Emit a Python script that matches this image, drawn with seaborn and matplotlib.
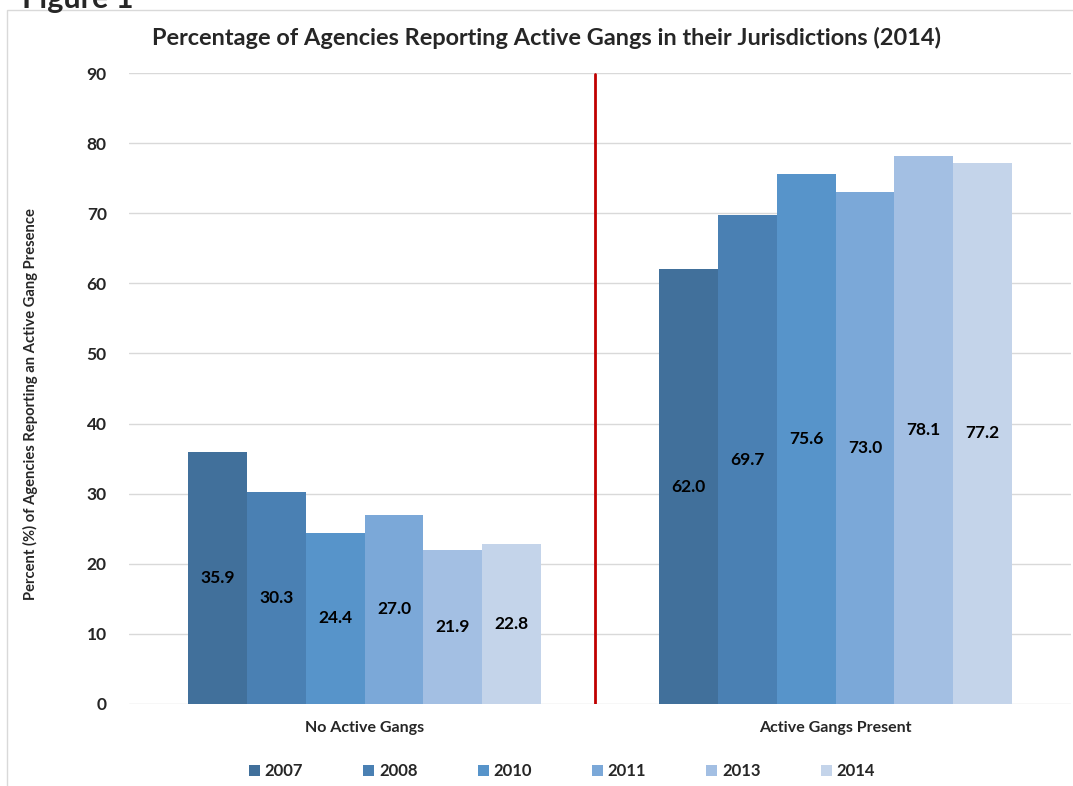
import matplotlib
matplotlib.use("Agg")
import matplotlib.pyplot as plt
import seaborn as sns
import pandas as pd
from matplotlib.patches import Rectangle

categories = ["No Active Gangs", "Active Gangs Present"]
years = ["2007", "2008", "2010", "2011", "2013", "2014"]
no_active = [35.9, 30.3, 24.4, 27.0, 21.9, 22.8]
active_present = [62.0, 69.7, 75.6, 73.0, 78.1, 77.2]
colors = ["#41709B", "#4A80B3", "#5794CA", "#7BA8D8", "#A3BFE3", "#C4D4EA"]
yticks = [0, 10, 20, 30, 40, 50, 60, 70, 80, 90]
divider_x = 0.49

rows = []
for y, a, b in zip(years, no_active, active_present):
    rows.append({"cat": categories[0], "year": y, "val": a})
    rows.append({"cat": categories[1], "year": y, "val": b})
df = pd.DataFrame(rows)

sns.set_theme(style="white")
plt.rcParams["font.family"] = ["Lato", "DejaVu Sans"]
plt.rcParams["font.weight"] = "bold"

fig = plt.figure(figsize=(10.73, 7.86), dpi=100)
ax = fig.add_axes([129 / 1073, 1 - 704 / 786, 942 / 1073, 631 / 786])

sns.barplot(data=df, x="cat", y="val", hue="year", order=categories, hue_order=years,
            palette=colors, width=0.75, gap=0, ax=ax, saturation=1, errorbar=None,
            edgecolor="none", linewidth=0, legend=True)

for cont in ax.containers:
    ax.bar_label(cont, fmt="%.1f", label_type="center", fontsize=12.5, fontweight="bold",
                 color="black")

ax.set_xlim(-0.5, 1.5)
ax.set_ylim(0, 90)
ax.set_yticks(yticks)
ax.set_yticklabels([str(t) for t in yticks], fontsize=12.5, fontweight="bold")
ax.tick_params(axis="x", labelsize=11.5, pad=12, length=0)
ax.tick_params(axis="y", pad=16, length=0)
for lab in ax.get_xticklabels():
    lab.set_fontweight("bold")
ax.set_xlabel("")
ax.set_ylabel("Percent (%) of Agencies Reporting an Active Gang Presence", fontsize=10.6,
              fontweight="bold")
ax.yaxis.set_label_coords(-0.105, 0.475)
ax.yaxis.label.set_verticalalignment("center")
ax.yaxis.grid(True, color="#D9D9D9", lw=1)
ax.set_axisbelow(True)
for s in ax.spines.values():
    s.set_visible(False)

ax.axvline(divider_x, ymin=0, ymax=0.998, color="#C00000", lw=2)

handles, labels = ax.get_legend_handles_labels()
ax.legend_.remove()
fig.legend(handles, labels, loc="center", bbox_to_anchor=(562 / 1073, 1 - 771 / 786),
           ncol=6, frameon=False, handlelength=0.65, handleheight=0.65,
           handletextpad=0.3, columnspacing=3.6, prop={"weight": "bold", "size": 12})

fig.suptitle("Percentage of Agencies Reporting Active Gangs in their Jurisdictions (2014)",
             x=547 / 1073, y=1 - 38 / 786, va="center", fontsize=16.9, fontweight="bold")

fig.text(22 / 1073, 1 - 8 / 786, "Figure 1", fontsize=22, fontweight="bold", va="baseline",
         ha="left")
fig.patches.append(Rectangle((7 / 1073, -0.05), 1.1, 1 - 10 / 786 + 0.05,
                             transform=fig.transFigure, fill=False, edgecolor="#D9D9D9",
                             lw=1, figure=fig))

fig.savefig("out.png", dpi=100, facecolor="white")
